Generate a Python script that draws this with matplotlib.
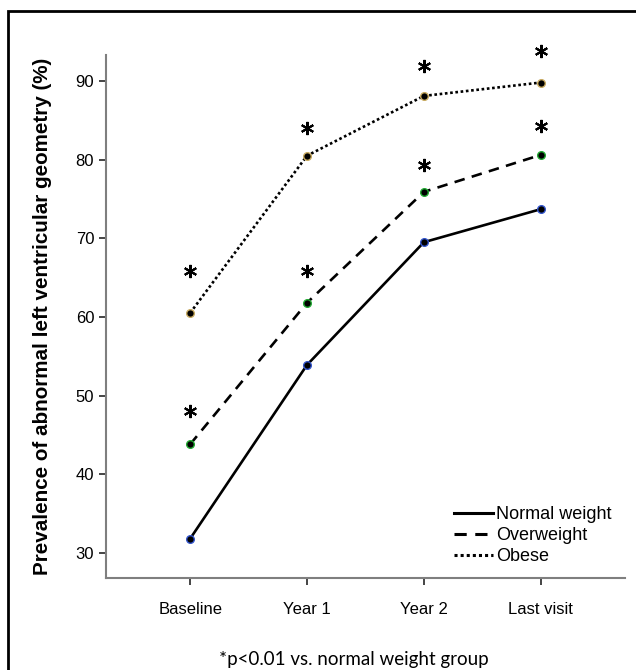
import matplotlib
matplotlib.use('Agg')
from matplotlib import pyplot as plt
from matplotlib.patches import Rectangle
from matplotlib.lines import Line2D

visits = ['Baseline', 'Year 1', 'Year 2', 'Last visit']
normal = [31.8, 53.9, 69.5, 73.7]
overweight = [43.8, 61.8, 75.9, 80.6]
obese = [60.5, 80.5, 88.1, 89.8]

# where the significance stars sit
star_overweight = [48.0, 65.8, 79.3, 84.3]
star_obese = [65.8, 84.0, 91.9, 93.8]

plt.rcParams['font.family'] = ['Liberation Sans', 'DejaVu Sans']

fig = plt.figure(figsize=(6.36, 6.70), dpi=100)
ax = fig.add_axes([106/636, 1-578/670, (625-106)/636, (578-55)/670])

xs = list(range(len(visits)))

styles = [
    ('Normal weight', normal, '-', '#3355cc'),
    ('Overweight', overweight, (0, (4, 2.8)), '#22aa33'),
    ('Obese', obese, (0, (1, 1)), '#c8aa60'),
]

handles = []
for name, vals, ls, edge in styles:
    ax.plot(xs, vals, color='black', lw=1.9, ls=ls)
    ax.plot(xs, vals, ls='none', marker='o', ms=5.5, mfc='black', mec=edge, mew=1)
    handles.append(Line2D([], [], color='black', lw=2.2, ls=ls, label=name))

for stars in [star_overweight, star_obese]:
    ax.plot(xs, stars, marker=(6, 2, 0), ms=9.5, mew=1.5, color='black',
            ls='none', clip_on=False)

ax.set_xlim(-0.72, 3.72)
ax.set_ylim(26.8, 93.3)
ax.set_xticks(xs)
ax.set_xticklabels(visits)
ax.set_yticks([30, 40, 50, 60, 70, 80, 90])

for s in ['top', 'right']:
    ax.spines[s].set_visible(False)
for s in ['left', 'bottom']:
    ax.spines[s].set_color('#7f7f7f')
    ax.spines[s].set_linewidth(1.5)
ax.tick_params(axis='both', colors='#444444', width=1.4, length=5,
               labelcolor='black', labelsize=12)
ax.tick_params(axis='x', pad=12)

ax.set_ylabel('Prevalence of abnormal left ventricular geometry (%)',
              fontsize=14.9, fontweight='bold', labelpad=17)

ax.legend(handles=handles, loc='lower left', frameon=False, fontsize=13,
          handlelength=2.2, handletextpad=0.15, labelspacing=0.22,
          borderaxespad=0, borderpad=0,
          bbox_to_anchor=(0.67, 0.025))

fig.text(354/636, 1-660/670, '*p<0.01 vs. normal weight group',
         ha='center', va='center', fontsize=13.5, family=['Lato', 'DejaVu Sans'])

fig.patches.append(Rectangle((8/636, -0.1), 2, 1.1 - 11/670, transform=fig.transFigure,
                             fill=False, edgecolor='black', lw=2))

fig.savefig('out.png', dpi=100)
